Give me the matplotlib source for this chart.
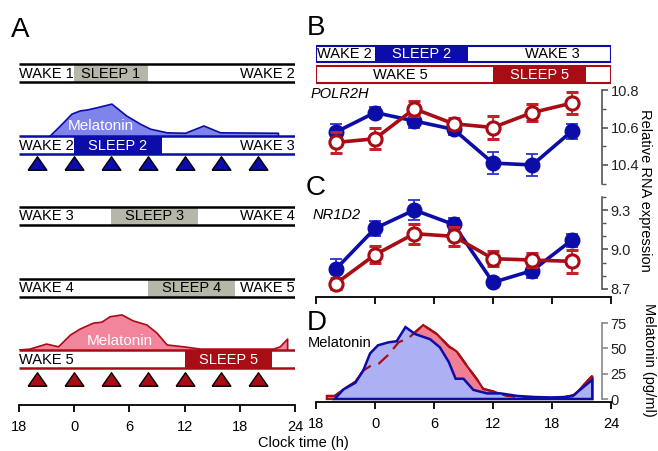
import numpy as np
import matplotlib.pyplot as plt
from matplotlib.patches import Rectangle

plt.rcParams['font.family'] = ['Liberation Sans', 'DejaVu Sans']

W, H = 658, 451

# clock time in hours, 0 = midnight, -6 = 18:00 of the day before
hour_ticks = [-6, 0, 6, 12, 18, 24]
hour_labels = ['18', '0', '6', '12', '18', '24']
sample_times = [-4, 0, 4, 8, 12, 16, 20]

# panel A schedules: (left wake, sleep, right wake, sleep start, sleep end)
a_rows = [
    ("WAKE 1", "SLEEP 1", "WAKE 2", 0, 8),
    ("WAKE 2", "SLEEP 2", "WAKE 3", 0, 9.5),
    ("WAKE 3", "SLEEP 3", "WAKE 4", 4, 13.5),
    ("WAKE 4", "SLEEP 4", "WAKE 5", 8, 17.5),
    ("WAKE 5", "SLEEP 5", "", 12, 21.5),
]

# schematic melatonin profiles in panel A
a_mel_blue_h = [-2.6, -1.3, -0.25, 0.65, 1.4, 2.5, 4.1, 5.7, 7.2, 8.3, 10.1, 12.1, 14.1, 15.9, 22.2, 22.2]
a_mel_blue_v = [0, 26, 48, 55, 57, 62, 70, 44, 26, 15, 7, 6, 22, 7, 6, 0]
a_mel_red_h = [-6.0, -4.8, -3.0, -1.7, -0.4, 0.65, 2.1, 3.0, 3.9, 5.2, 6.4, 7.9, 9.0, 10.1, 11.9, 13.7, 21.7, 22.4, 23.2, 23.2]
a_mel_red_v = [0, 2, 13, 7, 33, 46, 59, 61, 73, 77, 64, 55, 37, 11, 7, 2, 2, 7, 24, 0]

# panel B/C expression
polr2h_blue = [10.575, 10.68, 10.635, 10.59, 10.41, 10.40, 10.58]
polr2h_blue_err = [0.045, 0.03, 0.035, 0.03, 0.06, 0.06, 0.04]
polr2h_red = [10.52, 10.54, 10.70, 10.62, 10.60, 10.68, 10.73]
polr2h_red_err = [0.057, 0.056, 0.04, 0.03, 0.06, 0.047, 0.058]

nr1d2_blue = [8.85, 9.16, 9.30, 9.19, 8.75, 8.84, 9.07]
nr1d2_blue_err = [0.08, 0.06, 0.075, 0.05, 0.03, 0.06, 0.05]
nr1d2_red = [8.74, 8.96, 9.12, 9.10, 8.93, 8.92, 8.91]
nr1d2_red_err = [0.04, 0.065, 0.075, 0.07, 0.055, 0.05, 0.085]

# panel D melatonin (pg/ml)
mel_blue_h = [-4.1, -3.2, -2.0, -1.2, -0.5, 0.3, 1.4, 2.2, 3.1, 4.1, 5.6, 6.6, 7.5, 8.2, 9.0, 10.0, 11.4, 12.8, 14.5, 16.2, 17.9, 19.3, 20.1, 22.1]
mel_blue_v = [0, 9.5, 16, 28, 45, 53, 56, 57, 71, 64, 59, 51, 36.5, 20, 20, 9, 5.5, 5.5, 3, 2, 1.5, 2, 3, 19]
mel_red_h = [-4.9, -4.1, -3.2, -2.0, -1.2, -0.4, 0.4, 1.4, 2.4, 3.4, 4.9, 6.3, 7.5, 8.3, 9.4, 10.4, 11.0, 12.0, 13.4, 14.5, 16.2, 18.9, 20.3, 22.1]
mel_red_v = [3, 3, 9.5, 17, 28, 33, 35, 44, 56, 60, 73, 64, 52, 47, 32, 19, 10, 7.5, 3, 2, 1, 1, 4, 23]

BLUE = '#0c0ca8'
BLUE_ERR = '#2a34d0'
RED = '#a80c14'
RED_ERR = '#c8202a'
GRAY = '#b6b6a9'
A_BLUE_FILL = '#7e84ea'
A_RED_FILL = '#f2849c'
D_BLUE_FILL = '#adb1f4'
D_RED_FILL = '#f07f93'
AX_GRAY = '#555555'

# wide, flat triangle for the sampling marks
TRI = [(-1, -0.72), (1, -0.72), (0, 0.72), (-1, -0.72)]

fig = plt.figure(figsize=(W / 100, H / 100), dpi=100)


def px_axes(x0, y0, x1, y1):
    return fig.add_axes([x0 / W, 1 - y1 / H, (x1 - x0) / W, (y1 - y0) / H])


# --- Panel A: melatonin sketches (drawn below the bars) ---
for box, hh, vv, fc, ec in [((19, 95, 295, 136), a_mel_blue_h, a_mel_blue_v, A_BLUE_FILL, BLUE),
                             ((19, 309, 295, 350), a_mel_red_h, a_mel_red_v, A_RED_FILL, RED)]:
    axm = px_axes(*box)
    axm.set_xlim(-6, 24)
    axm.set_ylim(0, 90)
    axm.axis('off')
    axm.fill(hh, vv, facecolor=fc, edgecolor='none')
    axm.plot(hh, vv, color=ec, lw=1.2)
axes_mel = fig.axes[:]
axes_mel[0].text(2.9, 22, "Melatonin", color='white', fontsize=11, ha='center', va='center')
axes_mel[1].text(5.0, 20, "Melatonin", color='white', fontsize=11, ha='center', va='center')

# --- Panel A: schedule bars ---
axA = px_axes(19, 40, 295, 405)
axA.set_xlim(-6, 24)
axA.set_ylim(405, 40)
axA.patch.set_visible(False)
for s in ['top', 'left', 'right']:
    axA.spines[s].set_visible(False)
axA.spines['bottom'].set_linewidth(1.3)
axA.set_yticks([])
axA.set_xticks(hour_ticks, hour_labels)
axA.tick_params(axis='x', direction='out', length=5, width=1.3, labelsize=10.5, pad=6)

row_tops = [64, 136, 207, 279, 350]
row_h = 18
row_styles = [('k', GRAY, 'k'), (BLUE, BLUE, 'white'), ('k', GRAY, 'k'),
              ('k', GRAY, 'k'), (RED, RED, 'white')]
for (lw_txt, sl_txt, rw_txt, s0, s1), top, (lc, fc, tc) in zip(a_rows, row_tops, row_styles):
    axA.add_patch(Rectangle((s0, top), s1 - s0, row_h, facecolor=fc, edgecolor='none'))
    axA.plot([-6, 24], [top, top], color=lc, lw=1.8, solid_capstyle='butt')
    axA.plot([-6, 24], [top + row_h, top + row_h], color=lc, lw=1.8, solid_capstyle='butt')
    yc = top + row_h / 2 + 0.5
    axA.text(-6, yc, lw_txt, fontsize=10.5, ha='left', va='center')
    axA.text((s0 + s1) / 2, yc, sl_txt, fontsize=10.5, ha='center', va='center', color=tc)
    if rw_txt:
        axA.text(24, yc, rw_txt, fontsize=10.5, ha='right', va='center')

axA.plot(sample_times, [163] * len(sample_times), marker=TRI, ms=13.5, mfc=BLUE, mec='k', mew=1, ls='none')
axA.plot(sample_times, [379] * len(sample_times), marker=TRI, ms=13.5, mfc=RED, mec='k', mew=1, ls='none')

# --- Panel B: schedule boxes ---
axB = px_axes(316, 44, 611, 85)
axB.set_xlim(-6, 24)
axB.set_ylim(85, 44)
axB.axis('off')
axB.add_patch(Rectangle((0, 46), 9.5, 16, facecolor=BLUE, edgecolor='none'))
axB.add_patch(Rectangle((-6, 46), 30, 16, facecolor='none', edgecolor=BLUE, lw=1.5))
axB.add_patch(Rectangle((12, 66), 9.5, 17, facecolor=RED, edgecolor='none'))
axB.add_patch(Rectangle((-6, 66), 30, 17, facecolor='none', edgecolor=RED, lw=1.5))
axB.text(-5.9, 54.5, "WAKE 2", fontsize=10.5, ha='left', va='center')
axB.text(4.75, 54.5, "SLEEP 2", fontsize=10.5, ha='center', va='center', color='white')
axB.text(18, 54.5, "WAKE 3", fontsize=10.5, ha='center', va='center')
axB.text(2.6, 75, "WAKE 5", fontsize=10.5, ha='center', va='center')
axB.text(16.75, 75, "SLEEP 5", fontsize=10.5, ha='center', va='center', color='white')


def style_right(ax, ylim, bounds, majors, minors, bottom):
    ax.set_xlim(-6, 24)
    ax.set_ylim(*ylim)
    ax.patch.set_visible(False)
    for s in ['top', 'left']:
        ax.spines[s].set_visible(False)
    ax.spines['right'].set_position(('data', 23.1))
    ax.spines['right'].set_bounds(*bounds)
    ax.spines['right'].set_color(AX_GRAY)
    ax.spines['right'].set_linewidth(1.2)
    ax.yaxis.tick_right()
    ax.set_yticks(majors)
    ax.set_yticks(minors, minor=True)
    ax.tick_params(axis='y', which='major', direction='out', length=4, width=1.2,
                   color=AX_GRAY, labelsize=10.5, labelcolor='#222222', pad=2)
    ax.tick_params(axis='y', which='minor', direction='out', length=3, width=1.0, color=AX_GRAY)
    if bottom:
        ax.spines['bottom'].set_linewidth(1.3)
        ax.set_xticks(hour_ticks, hour_labels)
        ax.tick_params(axis='x', direction='out', length=5, width=1.3, labelsize=10.5, pad=6)
    else:
        ax.spines['bottom'].set_visible(False)
        ax.set_xticks([])


def expression(ax, blue, blue_err, red, red_err):
    ax.errorbar(sample_times, blue, yerr=blue_err, color=BLUE, ecolor=BLUE_ERR, lw=2.6,
                elinewidth=1.3, capsize=4, capthick=1.3, marker='o', ms=10.5,
                mfc=BLUE, mec=BLUE, zorder=3)
    ax.errorbar(sample_times, red, yerr=red_err, color=RED, ecolor=RED_ERR, lw=2.6,
                elinewidth=1.3, capsize=4, capthick=1.3, marker='o', ms=9.5,
                mfc='white', mec=RED, mew=2.2, zorder=4)


axP = px_axes(316, 85, 611, 185)
style_right(axP, (10.293, 10.827), (10.3, 10.8), [10.4, 10.6, 10.8], [10.3, 10.5, 10.7], False)
axP.set_yticklabels(['10.4', '10.6', '10.8'])
expression(axP, polr2h_blue, polr2h_blue_err, polr2h_red, polr2h_red_err)
axP.text(-6.6, 10.78, "POLR2H", fontsize=10.5, style='italic', ha='left', va='center')

axC = px_axes(316, 190, 611, 297)
style_right(axC, (8.639, 9.452), (8.7, 9.4), [8.7, 9.0, 9.3], [8.8, 8.9, 9.1, 9.2, 9.4], True)
axC.set_yticklabels(['8.7', '9.0', '9.3'])
axC.tick_params(axis='x', labelbottom=False)
expression(axC, nr1d2_blue, nr1d2_blue_err, nr1d2_red, nr1d2_red_err)
axC.text(-6.4, 9.26, "NR1D2", fontsize=10.5, style='italic', ha='left', va='center')

axD = px_axes(316, 300, 611, 402)
style_right(axD, (-2.96, 97.7), (0, 75), [0, 25, 50, 75], [], True)
axD.spines['right'].set_color('#888888')
axD.tick_params(axis='y', which='major', color='#888888')
rx = np.r_[mel_red_h[0], mel_red_h, mel_red_h[-1]]
ry = np.r_[0, mel_red_v, 0]
bx = np.r_[mel_blue_h[0], mel_blue_h, mel_blue_h[-1]]
by = np.r_[0, mel_blue_v, 0]
axD.fill(rx, ry, facecolor=D_RED_FILL, edgecolor=RED, lw=1.6, zorder=2)
axD.fill(bx, by, facecolor=D_BLUE_FILL, edgecolor='none', zorder=3)
axD.plot(mel_red_h, mel_red_v, color=RED, lw=1.6, dashes=(6, 3.5), zorder=4)
axD.fill(bx, by, facecolor='none', edgecolor=BLUE, lw=1.8, zorder=5)
axD.text(-6.8, 55, "Melatonin", fontsize=10.5, ha='left', va='center')

# panel letters and shared labels
fig.text(11 / W, 1 - 30 / H, "A", fontsize=20, ha='left', va='center')
fig.text(307 / W, 1 - 28 / H, "B", fontsize=20, ha='left', va='center')
fig.text(306 / W, 1 - 188 / H, "C", fontsize=20, ha='left', va='center')
fig.text(307 / W, 1 - 323 / H, "D", fontsize=20, ha='left', va='center')
fig.text(303 / W, 1 - 443 / H, "Clock time (h)", fontsize=10.5, ha='center', va='center')
fig.text(645 / W, 1 - 190 / H, "Relative RNA expression", fontsize=10.5, rotation=270,
         ha='center', va='center')
fig.text(649 / W, 1 - 360 / H, "Melatonin (pg/ml)", fontsize=10.5, rotation=270,
         ha='center', va='center')

fig.savefig("out.png", dpi=100)
